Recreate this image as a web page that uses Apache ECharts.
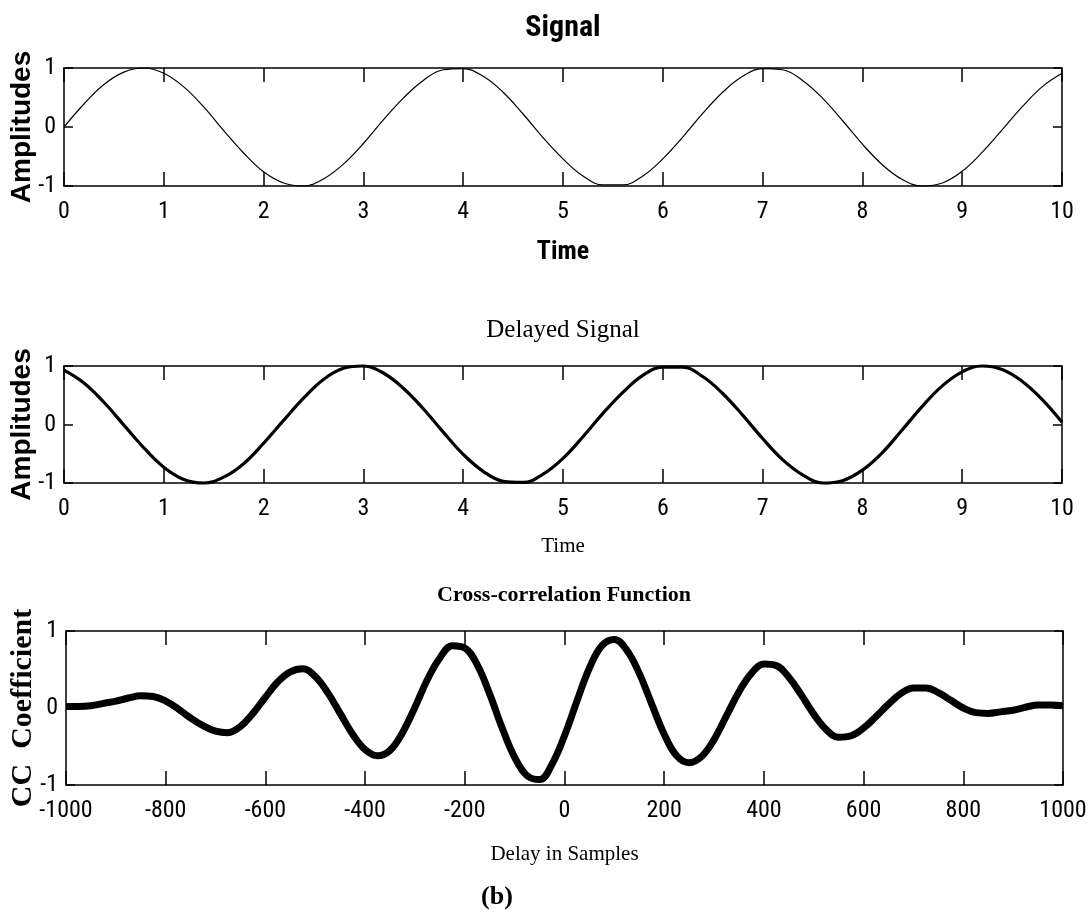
<!DOCTYPE html>
<html>
<head>
<meta charset="utf-8">
<script src="https://cdn.jsdelivr.net/npm/echarts@6/dist/echarts.min.js"></script>
<style>
  html, body { margin: 0; padding: 0; background: #fff; }
  #chart { width: 1090px; height: 914px; }
</style>
</head>
<body>
<div id="chart"></div>
<script>
// Sample times of the two sinusoids (s)
const timeSec = [0, 0.2, 0.4, 0.6, 0.8, 1.0, 1.2, 1.4, 1.6, 1.8, 2.0, 2.2, 2.4, 2.6, 2.8,
  3.0, 3.2, 3.4, 3.6, 3.8, 4.0, 4.2, 4.4, 4.6, 4.8, 5.0, 5.2, 5.4, 5.6, 5.8, 6.0,
  6.2, 6.4, 6.6, 6.8, 7.0, 7.2, 7.4, 7.6, 7.8, 8.0, 8.2, 8.4, 8.6, 8.8, 9.0,
  9.2, 9.4, 9.6, 9.8, 10.0];

// Original signal amplitudes
const signalAmp = [0.00, 0.39, 0.72, 0.93, 1.00, 0.91, 0.68, 0.34, -0.06, -0.44, -0.76,
  -0.95, -1.00, -0.88, -0.63, -0.28, 0.12, 0.49, 0.79, 0.97, 0.99, 0.86, 0.59, 0.22,
  -0.18, -0.54, -0.83, -0.98, -0.98, -0.83, -0.54, -0.17, 0.23, 0.59, 0.86, 0.99,
  0.97, 0.79, 0.49, 0.11, -0.29, -0.64, -0.89, -1.00, -0.95, -0.75, -0.43, -0.05,
  0.34, 0.68, 0.91];

// Delayed signal amplitudes
const delayedAmp = [0.93, 0.71, 0.38, -0.01, -0.40, -0.73, -0.94, -1.00, -0.90, -0.67,
  -0.32, 0.07, 0.45, 0.77, 0.96, 1.00, 0.88, 0.62, 0.27, -0.13, -0.51, -0.80, -0.97,
  -0.99, -0.85, -0.58, -0.21, 0.19, 0.55, 0.84, 0.98, 0.98, 0.82, 0.53, 0.16, -0.24,
  -0.60, -0.86, -1.00, -0.96, -0.78, -0.48, -0.09, 0.31, 0.66, 0.90, 1.00, 0.94,
  0.74, 0.43, 0.04];

// Lags of the cross-correlation (samples)
const lagSamples = [-1000, -975, -950, -925, -900, -875, -850, -825, -800, -775, -750,
  -725, -700, -675, -650, -625, -600, -575, -550, -525, -500, -475, -450, -425, -400,
  -375, -350, -325, -300, -275, -250, -225, -200, -175, -150, -125, -100, -75, -50,
  -25, 0, 25, 50, 75, 100, 125, 150, 175, 200, 225, 250, 275, 300, 325, 350, 375,
  400, 425, 450, 475, 500, 525, 550, 575, 600, 625, 650, 675, 700, 725, 750, 775,
  800, 825, 850, 875, 900, 925, 950, 975, 1000];

// Cross-correlation coefficients
const ccCoef = [0.02, 0.02, 0.03, 0.06, 0.09, 0.13, 0.16, 0.15, 0.09, -0.01, -0.13,
  -0.23, -0.30, -0.32, -0.24, -0.07, 0.14, 0.34, 0.47, 0.51, 0.41, 0.20, -0.07,
  -0.34, -0.54, -0.62, -0.55, -0.32, 0.01, 0.37, 0.65, 0.81, 0.78, 0.56, 0.18,
  -0.26, -0.64, -0.88, -0.93, -0.73, -0.36, 0.09, 0.52, 0.81, 0.89, 0.75, 0.45,
  0.05, -0.34, -0.62, -0.71, -0.63, -0.41, -0.10, 0.21, 0.45, 0.57, 0.55, 0.40,
  0.17, -0.08, -0.28, -0.38, -0.36, -0.26, -0.11, 0.05, 0.19, 0.26, 0.26, 0.20,
  0.10, 0.00, -0.06, -0.07, -0.05, -0.03, 0.01, 0.04, 0.04, 0.03];

const NARROW = "'Liberation Sans Narrow', 'Roboto Condensed', 'Open Sans Condensed', 'Liberation Sans', sans-serif";
const SANS = "'Liberation Sans', Arial, sans-serif";
const SERIF = "'Liberation Serif', 'Times New Roman', serif";

const pairs = (xs, ys) => xs.map((x, i) => [x, ys[i]]);

const lineStyle = { color: '#000', width: 1.5 };
const plainNumber = v => String(v);

// One boxed frame: bottom/left axes carry labels, top/right only ticks
function frame(g, xMin, xMax, xStep, xName, xNameStyle, xNameGap, yName, yNameStyle, yNameGap) {
  const xBase = {
    type: 'value', gridIndex: g, min: xMin, max: xMax, interval: xStep,
    axisLine: { show: true, onZero: false, lineStyle },
    axisTick: { show: true, inside: true, length: 14, lineStyle },
    splitLine: { show: false }
  };
  const yBase = {
    type: 'value', gridIndex: g, min: -1, max: 1, interval: 1,
    axisLine: { show: true, onZero: false, lineStyle },
    axisTick: { show: true, inside: true, length: 9, lineStyle },
    splitLine: { show: false }
  };
  return {
    x: [
      Object.assign({}, xBase, {
        position: 'bottom',
        axisLabel: { color: '#000', fontFamily: NARROW, fontSize: 24, margin: 14,
          formatter: plainNumber },
        name: xName, nameLocation: 'middle', nameGap: xNameGap,
        nameTextStyle: Object.assign({ color: '#000' }, xNameStyle)
      }),
      Object.assign({}, xBase, { position: 'top', axisLabel: { show: false } })
    ],
    y: [
      Object.assign({}, yBase, {
        position: 'left',
        axisLabel: { color: '#000', fontFamily: NARROW, fontSize: 24, margin: 8,
          formatter: plainNumber },
        name: yName, nameLocation: 'middle', nameRotate: 90, nameGap: yNameGap,
        nameMoveOverlap: false,
        nameTextStyle: Object.assign({ color: '#000' }, yNameStyle)
      }),
      Object.assign({}, yBase, { position: 'right', axisLabel: { show: false } })
    ]
  };
}

const f1 = frame(0, 0, 10, 1, 'Time',
  { fontFamily: NARROW, fontWeight: 'bold', fontSize: 26 }, 53,
  'Amplitudes', { fontFamily: SANS, fontWeight: 'bold', fontSize: 28 }, 28);
const f2 = frame(1, 0, 10, 1, 'Time',
  { fontFamily: SERIF, fontSize: 21 }, 53,
  'Amplitudes', { fontFamily: SANS, fontWeight: 'bold', fontSize: 28 }, 28);
const f3 = frame(2, -1000, 1000, 200, 'Delay in Samples',
  { fontFamily: SERIF, fontSize: 21 }, 59,
  'CC  Coefficient', { fontFamily: SERIF, fontWeight: 'bold', fontSize: 30 }, 28);

const option = {
  backgroundColor: '#fff',
  animation: false,
  grid: [
    { left: 64, right: 28, top: 68, height: 118, outerBoundsMode: 'none', containLabel: false },
    { left: 64, right: 28, top: 366, height: 117, outerBoundsMode: 'none', containLabel: false },
    { left: 66, right: 27, top: 631, height: 154, outerBoundsMode: 'none', containLabel: false }
  ],
  xAxis: [].concat(f1.x, f2.x, f3.x),
  yAxis: [].concat(f1.y, f2.y, f3.y),
  graphic: [
    { type: 'text', x: 563, y: 28, style: { text: 'Signal', fill: '#000',
      font: 'bold 30px ' + NARROW, textAlign: 'center', textVerticalAlign: 'middle' } },
    { type: 'text', x: 563, y: 330, style: { text: 'Delayed Signal', fill: '#000',
      font: '25px ' + SERIF, textAlign: 'center', textVerticalAlign: 'middle' } },
    { type: 'text', x: 564, y: 595, style: { text: 'Cross-correlation Function', fill: '#000',
      font: 'bold 22px ' + SERIF, textAlign: 'center', textVerticalAlign: 'middle' } },
    { type: 'text', x: 497, y: 897, style: { text: '(b)', fill: '#000',
      font: 'bold 26px ' + SERIF, textAlign: 'center', textVerticalAlign: 'middle' } }
  ],
  series: [
    { type: 'line', xAxisIndex: 0, yAxisIndex: 0, data: pairs(timeSec, signalAmp),
      smooth: 0.4, symbol: 'none', clip: false, lineStyle: { color: '#000', width: 1.2 } },
    { type: 'line', xAxisIndex: 2, yAxisIndex: 2, data: pairs(timeSec, delayedAmp),
      smooth: 0.4, symbol: 'none', clip: false, lineStyle: { color: '#000', width: 3.2 } },
    { type: 'line', xAxisIndex: 4, yAxisIndex: 4, data: pairs(lagSamples, ccCoef),
      smooth: 0.4, symbol: 'none', clip: false, lineStyle: { color: '#000', width: 7 } }
  ]
};

echarts.init(document.getElementById('chart'), null, { renderer: 'canvas' }).setOption(option);
</script>
</body>
</html>
